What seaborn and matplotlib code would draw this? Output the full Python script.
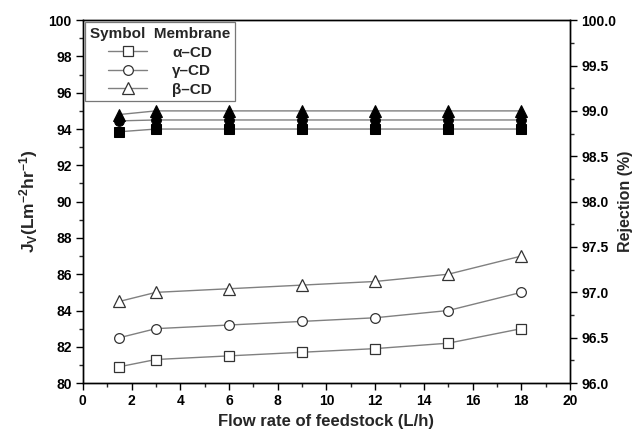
import numpy as np
import pandas as pd
import seaborn as sns
import matplotlib.pyplot as plt
from matplotlib.ticker import MultipleLocator

# data
flow = [1.5, 3, 6, 9, 12, 15, 18]
membranes = ['α–CD', 'γ–CD', 'β–CD']
markers = ['s', 'o', '^']
flux_alpha = [80.9, 81.3, 81.5, 81.7, 81.9, 82.2, 83.0]
flux_gamma = [82.5, 83.0, 83.2, 83.4, 83.6, 84.0, 85.0]
flux_beta = [84.5, 85.0, 85.2, 85.4, 85.6, 86.0, 87.0]
rej_alpha = [98.77, 98.8, 98.8, 98.8, 98.8, 98.8, 98.8]
rej_gamma = [98.89, 98.9, 98.9, 98.9, 98.9, 98.9, 98.9]
rej_beta = [98.96, 99.0, 99.0, 99.0, 99.0, 99.0, 99.0]

sns.set_style('ticks')
plt.rcParams['font.family'] = ['Liberation Sans', 'DejaVu Sans']
plt.rcParams['font.weight'] = 'bold'
plt.rcParams['mathtext.fontset'] = 'custom'
plt.rcParams['mathtext.rm'] = 'Liberation Sans:bold'
plt.rcParams['mathtext.bf'] = 'Liberation Sans:bold'
plt.rcParams['mathtext.it'] = 'Liberation Sans:bold'

fig = plt.figure(figsize=(6.32, 4.29), dpi=100)
ax = fig.add_axes([0.131, 0.107, 0.771, 0.846])
ax2 = ax.twinx()

fluxes = [flux_alpha, flux_gamma, flux_beta]
rejs = [rej_alpha, rej_gamma, rej_beta]

for name, m, fl in zip(membranes, markers, fluxes):
    sns.lineplot(x=flow, y=fl, ax=ax, color='#808080', lw=1.0, marker=m,
                 markersize=8 if m == '^' else 7, markerfacecolor='white',
                 markeredgecolor='#333333', markeredgewidth=0.9, label=name)

for m, rj in zip(markers, rejs):
    sns.lineplot(x=flow, y=rj, ax=ax2, color='#808080', lw=1.0, marker=m,
                 markersize=8 if m == '^' else 7, markerfacecolor='black',
                 markeredgecolor='black', legend=False)

ax.set_xlim(0, 20)
ax.set_ylim(80, 100)
ax2.set_ylim(96.0, 100.0)
ax.xaxis.set_major_locator(MultipleLocator(2))
ax.xaxis.set_minor_locator(MultipleLocator(1))
ax.yaxis.set_major_locator(MultipleLocator(2))
ax.yaxis.set_minor_locator(MultipleLocator(1))
ax2.yaxis.set_major_locator(MultipleLocator(0.5))
ax2.yaxis.set_minor_locator(MultipleLocator(0.25))
ax2.yaxis.set_major_formatter(plt.FormatStrFormatter('%.1f'))

for a in (ax, ax2):
    for s in a.spines.values():
        s.set_visible(True)
        s.set_linewidth(1.0)
        s.set_color('black')
    a.tick_params(which='major', direction='out', length=5, width=1,
                  labelsize=10, colors='black', pad=3)
    a.tick_params(which='minor', direction='out', length=3, width=1)
    for t in a.get_xticklabels() + a.get_yticklabels():
        t.set_fontweight('bold')

ax.set_xlabel('Flow rate of feedstock (L/h)', fontsize=12, fontweight='bold')
ax.set_ylabel(r'J$_\mathrm{V}$(Lm$^{\mathrm{-2}}$hr$^{\mathrm{-1}}$)',
              fontsize=12.5, fontweight='bold', labelpad=6)
ax2.set_ylabel('Rejection (%)', fontsize=11.5, fontweight='bold', labelpad=1)

leg = ax.legend(title='Symbol  Membrane', loc='upper left', frameon=True,
                fancybox=False, edgecolor='#555555', fontsize=11,
                title_fontsize=11, borderaxespad=0.15, handlelength=2.6,
                handletextpad=1.6, labelspacing=0.3, borderpad=0.3)
leg.get_title().set_fontweight('bold')
leg.get_frame().set_linewidth(0.9)
for t in leg.get_texts():
    t.set_fontweight('bold')

fig.savefig('out.png', dpi=100)
